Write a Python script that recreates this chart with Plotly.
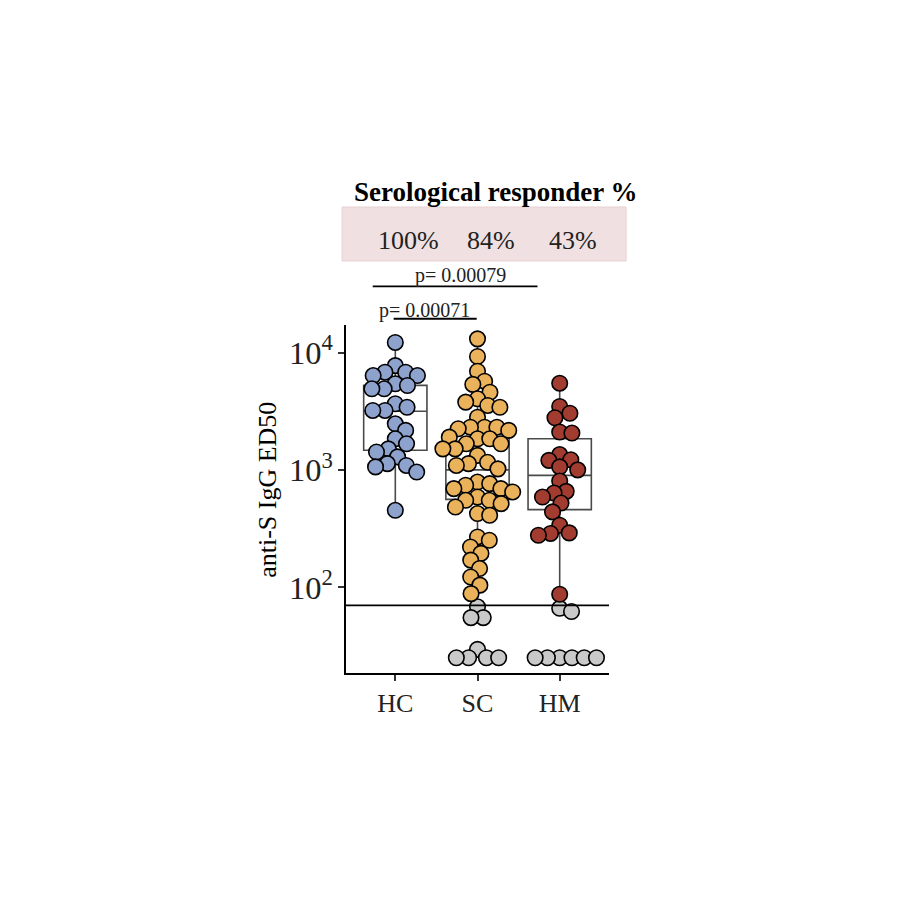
import numpy as np
import plotly.graph_objects as go

# ---- data
groups = ["HC", "SC", "HM"]
hc_vals = [12200, 7740, 6800, 6800, 6370, 6370, 5420, 5240, 4910, 4910, 3660, 3420,
           3210, 3210, 2470, 2170, 1840, 1670, 1510, 1420, 1290, 1130, 1090, 1060, 958, 452]
sc_vals = [13090, 9250, 6930, 5700, 5350, 4590, 4040, 3780, 3540, 3420, 2810, 2310,
           2310, 2310, 2240, 2170, 1900, 1840, 1840, 1670, 1670, 1510, 1510, 1330, 1160,
           1130, 1090, 1020, 787, 763, 739, 692, 692, 648, 587, 550, 550, 515, 482, 424,
           410, 268, 251, 220, 194, 170, 144, 122, 104, 88,
           68, 55, 55, 29.5, 25, 25, 25, 25]
hm_vals = [5480, 3470, 3040, 2780, 2100, 2060, 1350, 1220, 1205, 1060, 1000, 804, 656,
           635, 587, 521, 438, 337, 290, 287, 277, 87,
           66, 62, 25, 25, 25, 25, 25, 25]

box_q1 = [1470, 560, 458]
box_median = [3160, 1000, 897]
box_q3 = [5250, 2050, 1840]
box_low = [452, 88, 87]
box_high = [12200, 13090, 5480]

threshold = 70
responder_pct = ["100%", "84%", "43%"]
p_labels = ["p= 0.00079", "p= 0.00071"]

colors = ["#8EA2CE", "#EBB25C", "#A23C30"]
grey = "#C9C9C9"

# ---- simple beeswarm (pixel space)
PX_X = 82.0      # px per category unit
PX_DEC = 117.3   # px per decade
DIAM = 17.0 * 0.72


def swarm(vals):
    vals = np.asarray(vals, dtype=float)
    ys = np.log10(vals) * PX_DEC
    order = np.argsort(-ys, kind="stable")
    placed = []
    offs = np.zeros(len(vals))
    for i in order:
        y = ys[i]
        cands = [0.0]
        for (px, py) in placed:
            dy = abs(py - y)
            if dy < DIAM:
                dx = np.sqrt(DIAM ** 2 - dy ** 2)
                cands += [px + dx, px - dx]
        cands = sorted(cands, key=abs)
        for c in cands:
            ok = True
            for (px, py) in placed:
                if (px - c) ** 2 + (py - y) ** 2 < DIAM ** 2 - 1e-6:
                    ok = False
                    break
            if ok:
                break
        placed.append((c, y))
        offs[i] = c / PX_X
    return offs


fig = go.Figure()

for i, g in enumerate(groups):
    fig.add_trace(go.Box(
        x=[i], q1=[box_q1[i]], median=[box_median[i]], q3=[box_q3[i]],
        lowerfence=[box_low[i]], upperfence=[box_high[i]],
        width=0.77, boxpoints=False, whiskerwidth=0,
        line=dict(color="#4a4a4a", width=1.6),
        fillcolor="rgba(255,255,255,0)",
        showlegend=False, hoverinfo="skip",
    ))

for i, vals in enumerate([hc_vals, sc_vals, hm_vals]):
    vals = np.asarray(vals, dtype=float)
    offs = swarm(vals)
    below = vals < threshold
    fig.add_trace(go.Scatter(
        x=i + offs[below], y=vals[below], mode="markers",
        marker=dict(size=15.5, color=grey, line=dict(color="black", width=1.6)),
        showlegend=False,
    ))
    fig.add_trace(go.Scatter(
        x=i + offs[~below], y=vals[~below], mode="markers",
        marker=dict(size=15.5, color=colors[i], line=dict(color="black", width=1.6)),
        showlegend=False,
    ))

# threshold line
fig.add_shape(type="line", xref="paper", yref="y", x0=0, x1=1, y0=threshold, y1=threshold,
              line=dict(color="black", width=1.8))

# responder box
fig.add_shape(type="rect", xref="paper", yref="paper", x0=-0.015, x1=1.065, y0=1.184, y1=1.339,
              fillcolor="#F1E0E1", line=dict(color="#E6D2D4", width=1), layer="below")

serif = "Liberation Serif"


def note(text, x, y, size, color="#222", xref="x", angle=0):
    fig.add_annotation(text=text, xref=xref, yref="paper", x=x, y=y, showarrow=False,
                       xanchor="center", yanchor="middle", textangle=angle,
                       font=dict(family=serif, size=size, color=color))


note("<b>Serological responder %</b>", 1.22, 1.382, 27, color="black")
for i, t in enumerate(responder_pct):
    note(t, i + 0.165, 1.244, 26)

# p-value brackets
fig.add_shape(type="line", xref="x", yref="paper", x0=-0.275, x1=1.73, y0=1.111, y1=1.111,
              line=dict(color="black", width=1.8))
note(p_labels[0], 0.79, 1.142, 20)
fig.add_shape(type="line", xref="x", yref="paper", x0=-0.02, x1=0.99, y0=1.018, y1=1.018,
              line=dict(color="black", width=1.8))
note(p_labels[1], 0.35, 1.043, 20)

# y title
note("anti-S IgG ED50", -0.297, 0.526, 26, color="black", xref="paper", angle=-90)

fig.update_layout(
    width=900, height=900,
    template="plotly_white",
    plot_bgcolor="white", paper_bgcolor="white",
    margin=dict(l=338, r=299, t=317, b=235, autoexpand=False),
    font=dict(family=serif, color="black"),
    xaxis=dict(
        range=[-0.6, 2.6], tickmode="array", tickvals=[0, 1, 2], ticktext=groups,
        showgrid=False, zeroline=False, showline=True, linecolor="black", linewidth=2,
        ticks="outside", ticklen=6, tickwidth=1.5, tickcolor="#333",
        tickfont=dict(family=serif, size=26, color="#222"),
    ),
    yaxis=dict(
        type="log", range=[1.268, 4.235], dtick=1, exponentformat="power",
        showgrid=False, zeroline=False, showline=True, linecolor="black", linewidth=2,
        ticks="outside", ticklen=6, tickwidth=1.5, tickcolor="#333",
        tickfont=dict(family=serif, size=26, color="#222"),
    ),
)

fig.write_html("out.html")
